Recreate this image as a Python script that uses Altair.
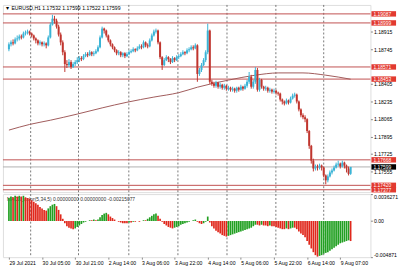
import altair as alt
import pandas as pd

FONT = "Liberation Sans"
BULL = "#3ab4d6"
BEAR = "#c0352e"
LEVEL = "#c05050"

header = "\u25bc EURUSD,H1  1.17532 1.17599 1.17522 1.17599"
ind_title = "MACD_color(5,34,5) 0.00000000 0.00000000 -0.00215077"

first_open = 1.18743
close = [
    1.18791, 1.18810, 1.18800, 1.18839, 1.18848, 1.18867, 1.18858, 1.18896, 1.18906, 1.18915,
    1.18896, 1.18877, 1.18848, 1.18829, 1.18800, 1.18810, 1.18791, 1.18800, 1.18781, 1.18858,
    1.18982, 1.19040, 1.19021, 1.18963, 1.18886, 1.18810, 1.18714, 1.18599, 1.18589, 1.18618,
    1.18570, 1.18599, 1.18618, 1.18637, 1.18657, 1.18647, 1.18676, 1.18695, 1.18685, 1.18714,
    1.18695, 1.18704, 1.18724, 1.18762, 1.18858, 1.18944, 1.18925, 1.18877, 1.18829, 1.18791,
    1.18762, 1.18733, 1.18704, 1.18714, 1.18685, 1.18704, 1.18676, 1.18695, 1.18714, 1.18724,
    1.18743, 1.18733, 1.18752, 1.18771, 1.18762, 1.18810, 1.18781, 1.18771, 1.18829, 1.18877,
    1.18915, 1.18925, 1.18810, 1.18666, 1.18589, 1.18637, 1.18666, 1.18647, 1.18618, 1.18657,
    1.18637, 1.18666, 1.18676, 1.18695, 1.18714, 1.18704, 1.18733, 1.18743, 1.18762, 1.18752,
    1.18781, 1.18503, 1.18542, 1.18589, 1.18637, 1.18714, 1.18925, 1.18427, 1.18407, 1.18388,
    1.18417, 1.18379, 1.18398, 1.18369, 1.18388, 1.18360, 1.18369, 1.18350, 1.18360, 1.18340,
    1.18369, 1.18350, 1.18379, 1.18360, 1.18388, 1.18427, 1.18474, 1.18379, 1.18427, 1.18542,
    1.18350, 1.18446, 1.18379, 1.18360, 1.18369, 1.18340, 1.18350, 1.18331, 1.18340, 1.18321,
    1.18312, 1.18254, 1.18235, 1.18216, 1.18245, 1.18225, 1.18264, 1.18292, 1.18302, 1.18235,
    1.18158, 1.18101, 1.18082, 1.18063, 1.17948, 1.17804, 1.17660, 1.17584, 1.17603, 1.17593,
    1.17612, 1.17593, 1.17516, 1.17469, 1.17507, 1.17545, 1.17564, 1.17593, 1.17622, 1.17631,
    1.17603, 1.17641, 1.17612, 1.17584, 1.17532, 1.17599,
]
high = [
    1.18810, 1.18829, 1.18839, 1.18858, 1.18877, 1.18886, 1.18886, 1.18915, 1.18925, 1.18934,
    1.18925, 1.18906, 1.18886, 1.18858, 1.18839, 1.18829, 1.18819, 1.18819, 1.18810, 1.18877,
    1.19001, 1.19078, 1.19068, 1.19040, 1.18982, 1.18906, 1.18829, 1.18733, 1.18637, 1.18647,
    1.18637, 1.18618, 1.18637, 1.18666, 1.18676, 1.18676, 1.18695, 1.18714, 1.18714, 1.18733,
    1.18724, 1.18724, 1.18743, 1.18781, 1.18877, 1.18963, 1.18953, 1.18934, 1.18886, 1.18839,
    1.18800, 1.18771, 1.18743, 1.18733, 1.18724, 1.18714, 1.18714, 1.18714, 1.18733, 1.18743,
    1.18762, 1.18752, 1.18771, 1.18791, 1.18791, 1.18829, 1.18819, 1.18800, 1.18848, 1.18896,
    1.18934, 1.18944, 1.18934, 1.18819, 1.18676, 1.18657, 1.18685, 1.18676, 1.18657, 1.18676,
    1.18666, 1.18685, 1.18695, 1.18714, 1.18733, 1.18724, 1.18752, 1.18762, 1.18781, 1.18781,
    1.18800, 1.18791, 1.18561, 1.18609, 1.18657, 1.18733, 1.18992, 1.18934, 1.18446, 1.18427,
    1.18436, 1.18427, 1.18417, 1.18407, 1.18407, 1.18398, 1.18388, 1.18379, 1.18379, 1.18369,
    1.18379, 1.18379, 1.18398, 1.18388, 1.18407, 1.18446, 1.18522, 1.18494, 1.18446, 1.18570,
    1.18561, 1.18465, 1.18455, 1.18388, 1.18388, 1.18379, 1.18369, 1.18360, 1.18360, 1.18350,
    1.18331, 1.18321, 1.18264, 1.18245, 1.18264, 1.18254, 1.18283, 1.18312, 1.18321, 1.18312,
    1.18245, 1.18168, 1.18120, 1.18101, 1.18072, 1.17957, 1.17813, 1.17679, 1.17622, 1.17622,
    1.17631, 1.17622, 1.17603, 1.17526, 1.17526, 1.17564, 1.17584, 1.17612, 1.17641, 1.17660,
    1.17641, 1.17660, 1.17650, 1.17622, 1.17603, 1.17599,
]
low = [
    1.18724, 1.18771, 1.18781, 1.18791, 1.18819, 1.18829, 1.18839, 1.18848, 1.18877, 1.18886,
    1.18877, 1.18858, 1.18829, 1.18800, 1.18781, 1.18781, 1.18771, 1.18771, 1.18752, 1.18771,
    1.18848, 1.18973, 1.18992, 1.18944, 1.18867, 1.18781, 1.18685, 1.18522, 1.18561, 1.18570,
    1.18551, 1.18561, 1.18580, 1.18599, 1.18618, 1.18628, 1.18637, 1.18666, 1.18666, 1.18676,
    1.18676, 1.18676, 1.18695, 1.18714, 1.18752, 1.18848, 1.18896, 1.18858, 1.18810, 1.18771,
    1.18743, 1.18714, 1.18685, 1.18685, 1.18666, 1.18666, 1.18657, 1.18666, 1.18685, 1.18704,
    1.18714, 1.18714, 1.18724, 1.18743, 1.18743, 1.18752, 1.18762, 1.18752, 1.18762, 1.18819,
    1.18867, 1.18896, 1.18791, 1.18647, 1.18542, 1.18580, 1.18628, 1.18618, 1.18599, 1.18609,
    1.18618, 1.18628, 1.18647, 1.18666, 1.18685, 1.18685, 1.18695, 1.18714, 1.18733, 1.18733,
    1.18743, 1.18427, 1.18484, 1.18522, 1.18580, 1.18618, 1.18695, 1.18407, 1.18388, 1.18369,
    1.18369, 1.18360, 1.18360, 1.18350, 1.18350, 1.18340, 1.18340, 1.18331, 1.18331, 1.18321,
    1.18321, 1.18331, 1.18340, 1.18340, 1.18350, 1.18369, 1.18407, 1.18360, 1.18360, 1.18407,
    1.18331, 1.18331, 1.18360, 1.18340, 1.18340, 1.18321, 1.18321, 1.18312, 1.18312, 1.18302,
    1.18292, 1.18235, 1.18206, 1.18197, 1.18206, 1.18206, 1.18216, 1.18254, 1.18273, 1.18216,
    1.18139, 1.18082, 1.18063, 1.18034, 1.17928, 1.17775, 1.17631, 1.17555, 1.17564, 1.17564,
    1.17574, 1.17564, 1.17497, 1.17430, 1.17449, 1.17497, 1.17526, 1.17555, 1.17584, 1.17603,
    1.17584, 1.17593, 1.17584, 1.17545, 1.17516, 1.17522,
]

ma_idx = [0, 10, 20, 33, 45, 57, 70, 82, 91, 106, 119, 130, 142, 153, 165]
ma_val = [1.17957, 1.18012, 1.18053, 1.18113, 1.18173, 1.18228, 1.18278, 1.18321,
          1.18374, 1.18443, 1.18491, 1.18513, 1.18513, 1.18491, 1.18452]

macd = [
    0.0031, 0.0033, 0.0032, 0.0034, 0.0033, 0.0034, 0.0033, 0.0034, 0.0032, 0.0031,
    0.0030, 0.0028, 0.0026, 0.0024, 0.0022, 0.0019, 0.0017, 0.0015, 0.0014,
    0.0017, 0.0020, 0.0022, 0.0023, 0.0020,
    0.0015, 0.0009, 0.0003, -0.0003,
    -0.0007, -0.0009, -0.0010, -0.0011,
    -0.0010, -0.0008, -0.0006, -0.0004, -0.0002, -0.0001,
    0.0000, 0.0001, 0.0001, 0.0002, 0.0001, 0.0002,
    0.0005, 0.0008, 0.0010, 0.0011,
    0.0009, 0.0006, 0.0004, 0.0002, 0.0000,
    -0.0001, -0.0002, -0.0003, -0.0003, -0.0003, -0.0002, -0.0002, -0.0001, -0.0001,
    0.0000, -0.0001, 0.0000, 0.0001, 0.0001,
    0.0003, 0.0005, 0.0007, 0.0009, 0.0010,
    0.0007, 0.0003, -0.0001, -0.0004,
    -0.0006, -0.0008, -0.0009, -0.0010, -0.0009,
    -0.0008, -0.0007, -0.0005, -0.0004, -0.0003, -0.0002,
    -0.0001, 0.0000, 0.0001, 0.0002,
    -0.0001, -0.0003, -0.0004, -0.0003, -0.0001,
    0.0006,
    -0.0002, -0.0007, -0.0010, -0.0013, -0.0015, -0.0017, -0.0019, -0.0020, -0.0021,
    -0.0020, -0.0019, -0.0018, -0.0017, -0.0016, -0.0015, -0.0014, -0.0013, -0.0012, -0.0011, -0.0010, -0.0009,
    -0.0007, -0.0005, -0.0005, -0.0006, -0.0005, -0.0006, -0.0006, -0.0007, -0.0006, -0.0007, -0.0007,
    -0.0008, -0.0009, -0.0010, -0.0011, -0.0011, -0.0010, -0.0011, -0.0010, -0.0009, -0.0009,
    -0.0011, -0.0014, -0.0017, -0.0019, -0.0022, -0.0027, -0.0032,
    -0.0037, -0.0042, -0.0046, -0.0048, -0.0047, -0.0046,
    -0.0044, -0.0043, -0.0042, -0.0040, -0.0038, -0.0036, -0.0034, -0.0032, -0.0030, -0.0029,
    -0.0028, -0.0027, -0.0026, -0.0027,
]

levels = [1.19087, 1.18999, 1.18571, 1.18453, 1.17668, 1.17420, 1.17377]
level_labels = ["1.19087", "1.18999", "1.18571", "1.18453", "1.17668", "1.17420", "1.17377"]
bid = [1.17599]
bid_label = ["1.17599"]
price_ticks = [1.18915, 1.18745, 1.18405, 1.18235, 1.18065, 1.17895, 1.17725, 1.17555]
macd_ticks = [0.0036271, 0.0, -0.004871]
time_pos = [0, 16, 32, 48, 64, 80, 96, 112, 128, 144, 160]
time_labels = ["29 Jul 2021", "30 Jul 05:00", "30 Jul 21:00", "2 Aug 14:00", "3 Aug 06:00",
               "3 Aug 22:00", "4 Aug 14:00", "5 Aug 06:00", "5 Aug 22:00", "6 Aug 14:00",
               "9 Aug 07:00"]
grid_pos = [10.5, 33.6, 57.9, 81.6, 105.3, 128.9, 152.0]

# ---------- tables ----------
opens = [first_open] + close[:-1]
cdf = pd.DataFrame({
    "i": list(range(len(close))), "open": opens, "close": close,
    "high": high, "low": low,
})
cdf["cdir"] = ["bull" if c >= o else "bear" for o, c in zip(opens, close)]

mdf = pd.DataFrame({"i": list(range(len(macd))), "v": macd})
mdf["mdir"] = ["rise"] + ["rise" if macd[k] > macd[k - 1] else "fall" for k in range(1, len(macd))]

madf = pd.DataFrame({"i": ma_idx, "v": ma_val})
ldf = pd.DataFrame({"p": levels, "t": level_labels})
bdf = pd.DataFrame({"p": bid, "t": bid_label})
gdf = pd.DataFrame({"g": grid_pos})

W = 373
xs = alt.Scale(domain=[-0.5, 172.19], nice=False, zero=False)
ys = alt.Scale(domain=[1.17354, 1.19174], nice=False, zero=False)
ms = alt.Scale(domain=[-0.004871, 0.0036271], nice=False, zero=False)

candle_col = alt.Color("cdir:N", scale=alt.Scale(domain=["bull", "bear"], range=[BULL, BEAR]), legend=None)
macd_col = alt.Color("mdir:N", scale=alt.Scale(domain=["rise", "fall"], range=["#22a022", "#e0281c"]), legend=None)

yaxis = alt.Axis(orient="right", values=price_ticks, format=".5f", title=None,
                 labelFontSize=5.2, tickSize=2, labelPadding=1, labelOverlap=False,
                 domain=False, grid=False)

grid_main = alt.Chart(gdf).mark_rule(color="#555555", strokeWidth=0.8, strokeDash=[2, 2]).encode(
    x=alt.X("g:Q", scale=xs, axis=None)
)
level_rules = alt.Chart(ldf).mark_rule(color=LEVEL, strokeWidth=1).encode(
    y=alt.Y("p:Q", scale=ys, axis=yaxis)
)
bid_rule = alt.Chart(bdf).mark_rule(color="#b0b0b0", strokeWidth=1).encode(
    y=alt.Y("p:Q", scale=ys, axis=yaxis)
)
ma_line = alt.Chart(madf).mark_line(color="#a05a5a", strokeWidth=1, interpolate="monotone").encode(
    x=alt.X("i:Q", scale=xs, axis=None), y=alt.Y("v:Q", scale=ys, axis=yaxis)
)
wicks = alt.Chart(cdf).mark_rule(strokeWidth=1).encode(
    x=alt.X("i:Q", scale=xs, axis=None),
    y=alt.Y("low:Q", scale=ys, axis=yaxis), y2="high:Q", color=candle_col
)
bodies = alt.Chart(cdf).mark_bar(size=2.0).encode(
    x=alt.X("i:Q", scale=xs, axis=None),
    y=alt.Y("open:Q", scale=ys, axis=yaxis), y2="close:Q", color=candle_col
)
head = alt.Chart(pd.DataFrame({"t": [header]})).mark_text(
    align="left", baseline="middle", fontSize=5.2, font=FONT, color="black"
).encode(x=alt.value(2), y=alt.value(3.5), text="t:N")
lbl_box = alt.Chart(ldf).mark_rule(color="#e23a30", strokeWidth=5.5).encode(
    y=alt.Y("p:Q", scale=ys, axis=yaxis), x=alt.value(374), x2=alt.value(399)
)
lbl_txt = alt.Chart(ldf).mark_text(align="left", baseline="middle", fontSize=5.0, font=FONT,
                                   color="white").encode(
    y=alt.Y("p:Q", scale=ys, axis=yaxis), x=alt.value(376), text="t:N"
)
bid_box = alt.Chart(bdf).mark_rule(color="black", strokeWidth=5.5).encode(
    y=alt.Y("p:Q", scale=ys, axis=yaxis), x=alt.value(374), x2=alt.value(399)
)
bid_txt = alt.Chart(bdf).mark_text(align="left", baseline="middle", fontSize=5.0, font=FONT,
                                   color="white").encode(
    y=alt.Y("p:Q", scale=ys, axis=yaxis), x=alt.value(376), text="t:N"
)

main = alt.layer(grid_main, level_rules, bid_rule, ma_line, wicks, bodies, head,
                 lbl_box, lbl_txt, bid_box, bid_txt).properties(width=W, height=190)

labels_js = "[" + ",".join("'" + t + "'" for t in time_labels) + "]"
pos_js = "[" + ",".join(str(p) for p in time_pos) + "]"
xaxis = alt.Axis(values=time_pos, labelExpr=labels_js + "[indexof(" + pos_js + ", datum.value)]",
                 labelAlign="left", labelFontSize=5.2, tickSize=2, labelPadding=1,
                 labelOverlap=False, labelFlush=False, domain=False, grid=False, title=None)
maxis = alt.Axis(orient="right", values=macd_ticks, title=None,
                 labelExpr="datum.value == 0 ? '0.00' : (datum.value > 0 ? '0.0036271' : '-0.004871')",
                 labelFontSize=5.2, tickSize=2, labelPadding=1, labelFlush=True,
                 labelOverlap=False, domain=False, grid=False)

grid_low = alt.Chart(gdf).mark_rule(color="#555555", strokeWidth=0.8, strokeDash=[2, 2]).encode(
    x=alt.X("g:Q", scale=xs, axis=xaxis)
)
ind_txt = alt.Chart(pd.DataFrame({"t": [ind_title]})).mark_text(
    align="left", baseline="middle", fontSize=5.0, font=FONT, color="#333333"
).encode(x=alt.value(4), y=alt.value(5), text="t:N")
bars = alt.Chart(mdf).mark_bar(size=1.7).encode(
    x=alt.X("i:Q", scale=xs, axis=xaxis),
    y=alt.Y("v:Q", scale=ms, axis=maxis), y2=alt.datum(0), color=macd_col
)
lower = alt.layer(grid_low, ind_txt, bars).properties(width=W, height=64)

chart = alt.vconcat(main, lower, spacing=2, bounds="flush").resolve_scale(
    color="independent"
).properties(
    padding={"left": 2, "top": 2, "right": 0, "bottom": 0}
).configure_view(stroke="black", strokeWidth=1).configure_axis(
    labelFont=FONT, labelColor="black", tickColor="black"
).configure(background="white")

chart.save("out.html", embed_options={"renderer": "svg", "actions": False})
